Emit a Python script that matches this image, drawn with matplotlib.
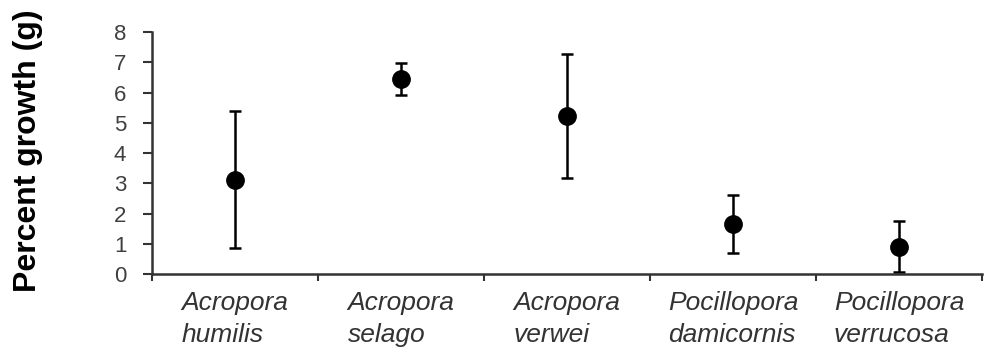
import numpy as np
import matplotlib.pyplot as plt

plt.rcParams['font.family'] = ['Liberation Sans', 'DejaVu Sans']

# Data
species = ["Acropora\nhumilis", "Acropora\nselago", "Acropora\nverwei",
           "Pocillopora\ndamicornis", "Pocillopora\nverrucosa"]
growth = [3.12, 6.45, 5.22, 1.65, 0.90]
err = [2.26, 0.53, 2.05, 0.95, 0.84]

x = np.arange(len(species)) + 0.5

fig = plt.figure(figsize=(9.84, 3.58), dpi=100)
ax = fig.add_axes([0.1545, 0.2346, 0.8435, 0.676])

ax.errorbar(x, growth, yerr=err, fmt='o', color='black', ecolor='black',
            markersize=12.5, elinewidth=1.8, capsize=4, capthick=1.8)

ax.set_xlim(0, len(species))
ax.set_ylim(0, 8)
ax.set_yticks(range(0, 9))

# category labels at centres, tick marks at the boundaries
ax.set_xticks(x)
ax.set_xticklabels(species, fontsize=19, style='italic', color='#333333',
                   linespacing=1.45, multialignment='left')
ax.set_xticks(np.arange(len(species) + 1), minor=True)
ax.tick_params(axis='x', which='major', length=0, pad=12)
ax.tick_params(axis='x', which='minor', length=5, width=1.5,
               direction='out', color='#333333')
ax.tick_params(axis='y', length=6.5, width=1.5, direction='out',
               color='#333333', labelsize=16, labelcolor='#404040', pad=12)

for s in ['top', 'right']:
    ax.spines[s].set_visible(False)
for s in ['left', 'bottom']:
    ax.spines[s].set_linewidth(1.8)
    ax.spines[s].set_color('#333333')

fig.text(0.028, 0.58, "Percent growth (g)", rotation=90, fontsize=23,
         fontweight='bold', ha='center', va='center')

fig.savefig("out.png", dpi=100)
